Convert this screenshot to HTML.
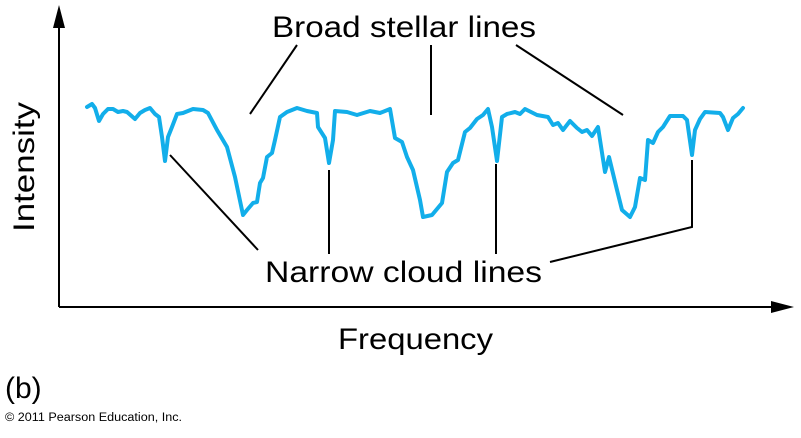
<!DOCTYPE html>
<html><head><style>body{margin:0;background:#fff}</style></head><body>
<svg width="801" height="433" viewBox="0 0 801 433" xmlns="http://www.w3.org/2000/svg" font-family="Liberation Sans, Arial, sans-serif">
<rect width="801" height="433" fill="#fff"/>
<g stroke="#000" stroke-width="2" fill="none">
<line x1="59" y1="24" x2="59" y2="307"/>
<line x1="59" y1="307" x2="776" y2="307"/>
<line x1="297" y1="45" x2="250" y2="114"/>
<line x1="431" y1="45" x2="431" y2="115"/>
<line x1="516" y1="45" x2="623" y2="115"/>
<line x1="170" y1="155" x2="258" y2="250"/>
<line x1="329" y1="170" x2="329" y2="254"/>
<line x1="496" y1="164" x2="496" y2="254"/>
<polyline points="550,262 692,227 692,160"/>
</g>
<polygon points="59,5 53,28 65,28" fill="#000"/>
<polygon points="794,307 771,301 771,313" fill="#000"/>
<polyline fill="none" stroke="#12aeea" stroke-width="4" stroke-linejoin="round" stroke-linecap="round" points="87,107 92,104 95,108 99,121 103,114 108,109 113,109 118,112 123,111 127,112 135,119 140,113 145,110 150,108 155,114 159,117 162,137 165,161 168,137 172,127 177,114 183,113 193,109 203,110 208,113 217,130 227,147 235,177 243,215 247,210 253,203 257,202 260,183 263,178 267,157 272,153 275,140 280,117 287,112 297,108 307,111 317,113 318,127 325,138 329,163 333,140 335,111 347,112 357,115 370,111 380,113 390,109 395,138 402,142 407,157 413,170 420,200 423,217 432,215 442,203 447,172 453,163 458,160 465,132 470,128 477,119 483,115 488,109 492,127 497,161 502,117 507,114 515,112 520,114 525,109 537,115 548,117 553,125 558,123 563,130 570,121 577,128 582,132 587,130 592,136 598,127 605,172 609,157 617,190 622,210 630,217 635,207 640,178 645,180 648,140 653,143 658,132 663,127 670,116 683,116 687,120 692,155 695,130 700,119 705,112 720,113 723,117 728,130 733,118 738,114 743,108"/>
<g fill="#000" font-size="30">
<text x="272" y="37" textLength="264" lengthAdjust="spacingAndGlyphs">Broad stellar lines</text>
<text x="265" y="282" textLength="277" lengthAdjust="spacingAndGlyphs">Narrow cloud lines</text>
<text x="338" y="349" textLength="155" lengthAdjust="spacingAndGlyphs">Frequency</text>
<text transform="translate(34,232) rotate(-90)" textLength="130" lengthAdjust="spacingAndGlyphs">Intensity</text>
<text x="5" y="398" font-size="30">(b)</text>
<text x="5" y="421" font-size="11.5" textLength="177" lengthAdjust="spacingAndGlyphs">© 2011 Pearson Education, Inc.</text>
</g>
</svg>
</body></html>
